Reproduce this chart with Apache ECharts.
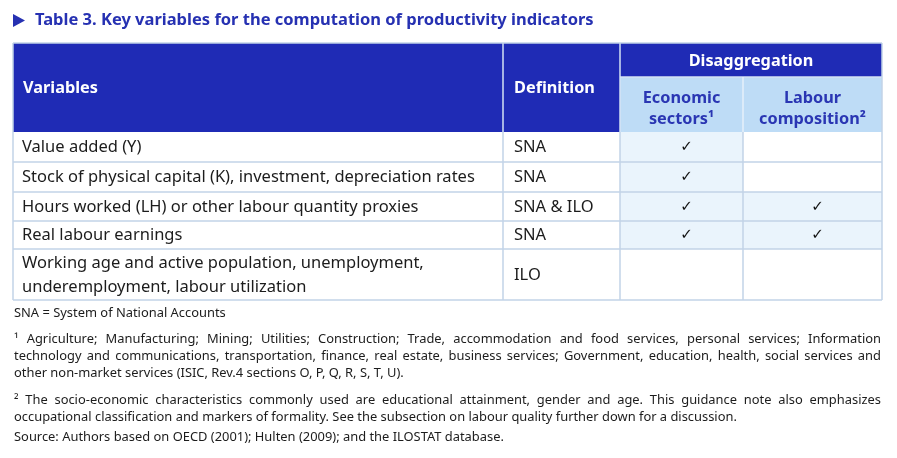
<!DOCTYPE html>
<html><head><meta charset="utf-8">
<script src="https://cdn.jsdelivr.net/npm/echarts@6/dist/echarts.min.js"></script>
<style>html,body{margin:0;padding:0;background:#fff}#c{width:897px;height:458px}</style>
</head><body><div id="c"></div>
<script>
// ---- content ----
const title = 'Table 3. Key variables for the computation of productivity indicators';
const headVariables = 'Variables';
const headDefinition = 'Definition';
const headDisagg = 'Disaggregation';
const subHeads = ['Economic\nsectors¹', 'Labour\ncomposition²'];
const variables = [
  'Value added (Y)',
  'Stock of physical capital (K), investment, depreciation rates',
  'Hours worked (LH) or other labour quantity proxies',
  'Real labour earnings',
  'Working age and active population, unemployment,\nunderemployment, labour utilization'
];
const definitions = ['SNA', 'SNA', 'SNA & ILO', 'SNA', 'ILO'];
const economicSectors = [1, 1, 1, 1, 0];
const labourComposition = [0, 0, 1, 1, 0];
const noteSNA = 'SNA = System of National Accounts';
const note1Lines = [
  '¹ Agriculture; Manufacturing; Mining; Utilities; Construction; Trade, accommodation and food services, personal services; Information',
  'technology and communications, transportation, finance, real estate, business services; Government, education, health, social services and',
  'other non-market services (ISIC, Rev.4 sections O, P, Q, R, S, T, U).'
];
const note2Lines = [
  '² The socio-economic characteristics commonly used are educational attainment, gender and age. This guidance note also emphasizes',
  'occupational classification and markers of formality. See the subsection on labour quality further down for a discussion.'
];
const sourceNote = 'Source: Authors based on OECD (2001); Hulten (2009); and the ILOSTAT database.';

// ---- layout / style ----
const FONT = "'Noto Sans', 'Open Sans', sans-serif";
const DARK = '#1f2bb5', SUB = '#bedcf6', FILL = '#eaf4fc', GRID = '#c2d3e7', HDRLINE = '#d4e3f4';
const TITLE_C = '#2631b2', TXT = '#1c1c1c';
const colX = [13, 503, 620, 743, 882];
const yTop = 43, yMid = 77, yHead = 132;
const rowH = [30, 30, 29, 28, 51];
const NOTE_FS = 12.9, BODY_FS = 16.5, HEAD_FS = 16.3, TITLE_FS = 16.5;

const els = [];
// title
els.push({type:'polygon', shape:{points:[[13,14],[25,20.5],[13,27]]}, style:{fill:TITLE_C}});
els.push({type:'text', x:35, y:20.5, style:{text:title, font:`bold ${TITLE_FS}px ${FONT}`, fill:TITLE_C, verticalAlign:'middle'}});

// header
els.push({type:'rect', shape:{x:colX[0], y:yTop, width:colX[2]-colX[0], height:yHead-yTop}, style:{fill:DARK}});
els.push({type:'rect', shape:{x:colX[2], y:yTop, width:colX[4]-colX[2], height:yMid-yTop}, style:{fill:DARK}});
els.push({type:'rect', shape:{x:colX[2], y:yMid, width:colX[4]-colX[2], height:yHead-yMid}, style:{fill:SUB}});
const hl = (x1,y1,x2,y2,c,w)=>els.push({type:'line', shape:{x1,y1,x2,y2}, style:{stroke:c, lineWidth:w}});
hl(colX[1], yTop, colX[1], yHead, HDRLINE, 1.5);
hl(colX[2], yTop, colX[2], yHead, HDRLINE, 1.5);
hl(colX[2], yMid, colX[4], yMid, HDRLINE, 1.5);
hl(colX[3], yMid, colX[3], yHead, '#e6f0fa', 1.5);
const hb = `bold ${HEAD_FS}px ${FONT}`;
els.push({type:'text', x:colX[0]+10, y:(yTop+yHead)/2+1, style:{text:headVariables, font:hb, fill:'#fff', verticalAlign:'middle'}});
els.push({type:'text', x:colX[1]+11, y:(yTop+yHead)/2+1, style:{text:headDefinition, font:hb, fill:'#fff', verticalAlign:'middle'}});
els.push({type:'text', x:(colX[2]+colX[4])/2, y:(yTop+yMid)/2+1, style:{text:headDisagg, font:hb, fill:'#fff', align:'center', verticalAlign:'middle'}});
subHeads.forEach((s,i)=>{
  els.push({type:'text', x:(colX[2+i]+colX[3+i])/2, y:(yMid+yHead)/2+4, style:{text:s, font:hb, fill:'#2a36b3', align:'center', verticalAlign:'middle', lineHeight:21}});
});

// body
let y = yHead;
const rowsY = [];
variables.forEach((v,i)=>{
  const h = rowH[i];
  rowsY.push(y);
  const cy = y + h/2 + 0.5;
  if (economicSectors[i]) els.push({type:'rect', shape:{x:colX[2], y:y, width:colX[3]-colX[2], height:h}, style:{fill:FILL}});
  if (labourComposition[i]) els.push({type:'rect', shape:{x:colX[3], y:y, width:colX[4]-colX[3], height:h}, style:{fill:FILL}});
  els.push({type:'text', x:colX[0]+9, y:cy, style:{text:v, font:`${BODY_FS}px ${FONT}`, fill:TXT, verticalAlign:'middle', lineHeight:24}});
  els.push({type:'text', x:colX[1]+11, y:cy, style:{text:definitions[i], font:`${BODY_FS}px ${FONT}`, fill:TXT, verticalAlign:'middle'}});
  if (economicSectors[i]) els.push({type:'text', x:(colX[2]+colX[3])/2+5, y:cy, style:{text:'✓', font:`15px 'DejaVu Sans'`, fill:'#111', align:'center', verticalAlign:'middle'}});
  if (labourComposition[i]) els.push({type:'text', x:(colX[3]+colX[4])/2+5, y:cy, style:{text:'✓', font:`15px 'DejaVu Sans'`, fill:'#111', align:'center', verticalAlign:'middle'}});
  y += h;
});
const yBot = y;
// grid lines
rowsY.slice(1).forEach(ry=>hl(colX[0], ry, colX[4], ry, GRID, 1.5));
hl(colX[0], yBot, colX[4], yBot, GRID, 1.5);
[1,2,3].forEach(k=>hl(colX[k], yHead, colX[k], yBot, GRID, 1.5));
hl(colX[0], yTop, colX[0], yBot, GRID, 1.5);
hl(colX[4], yTop, colX[4], yBot, GRID, 1.5);
hl(colX[0], yTop, colX[4], yTop, GRID, 1.5);

// notes
const noteFont = `${NOTE_FS}px ${FONT}`;
const cv = document.createElement('canvas').getContext('2d');
cv.font = noteFont;
const nx0 = 14, nx1 = 881;
function plain(text, yy){ els.push({type:'text', x:nx0, y:yy, style:{text, font:noteFont, fill:TXT, verticalAlign:'middle'}}); }
function justified(text, yy){
  const words = text.split(' ');
  const ws = words.map(w=>cv.measureText(w).width);
  const total = ws.reduce((a,b)=>a+b,0);
  const gap = (nx1-nx0-total)/(words.length-1);
  let x = nx0;
  words.forEach((w,i)=>{ els.push({type:'text', x, y:yy, style:{text:w, font:noteFont, fill:TXT, verticalAlign:'middle'}}); x += ws[i]+gap; });
}
function para(lines, y0){ lines.forEach((l,i)=>{ const yy=y0+i*17; if(i<lines.length-1) justified(l,yy); else plain(l,yy); }); }
plain(noteSNA, 313);
para(note1Lines, 339);
para(note2Lines, 400);
plain(sourceNote, 437);

const chart = echarts.init(document.getElementById('c'), null, {renderer:'canvas'});
chart.setOption({animation:false, backgroundColor:'#fff', graphic:{elements:els}});
</script></body></html>
